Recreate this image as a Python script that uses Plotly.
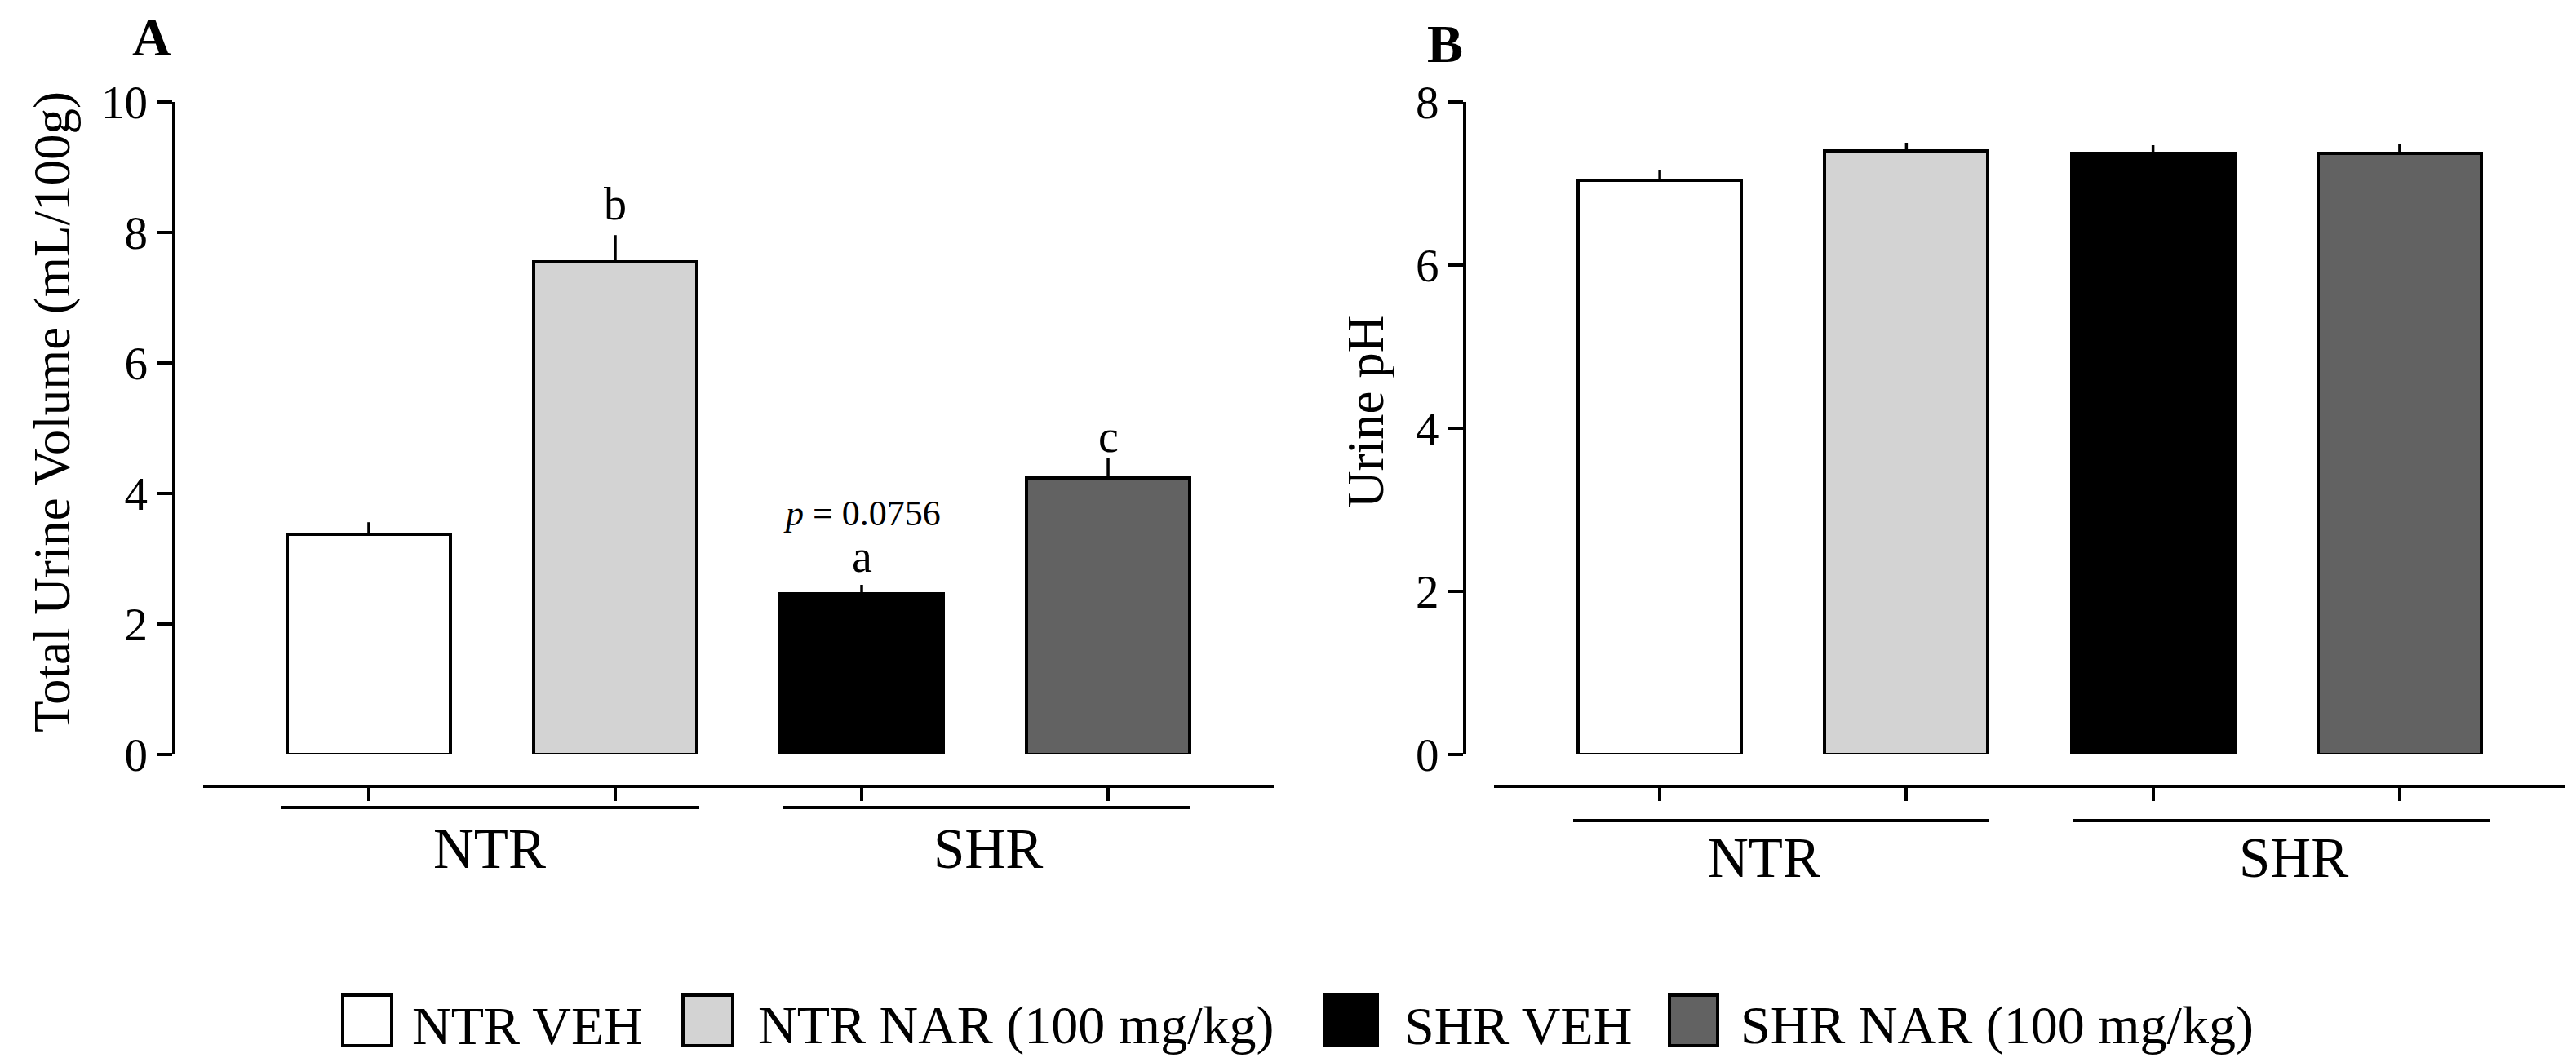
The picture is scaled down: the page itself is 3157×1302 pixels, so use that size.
import plotly.graph_objects as go

W, H = 3157, 1302
FONT = "Liberation Serif"

# data
groups = ["NTR VEH", "NTR NAR (100 mg/kg)", "SHR VEH", "SHR NAR (100 mg/kg)"]
colours = ["#ffffff", "#d3d3d3", "#000000", "#626262"]
volume_mean = [3.37, 7.55, 2.46, 4.24]
volume_sem = [0.19, 0.41, 0.14, 0.31]
ph_mean = [7.04, 7.40, 7.37, 7.37]
ph_sem = [0.12, 0.10, 0.10, 0.11]
strain_labels = ["NTR", "SHR"]
volume_letters = ["", "b", "a", "c"]


def px(x):
    return x / W


def py(y):
    return 1 - y / H


def text(x, y, s, size, **kw):
    return dict(x=px(x), y=py(y), xref="paper", yref="paper", text=s,
                showarrow=False, font=dict(family=FONT, size=size, color="black"),
                xanchor=kw.pop("xanchor", "center"), yanchor=kw.pop("yanchor", "middle"), **kw)


def hline(x0, x1, y, width=4):
    return dict(type="line", xref="paper", yref="paper", x0=px(x0), x1=px(x1),
                y0=py(y), y1=py(y), line=dict(color="black", width=width))


fig = go.Figure()

panels = [
    dict(mean=volume_mean, sem=volume_sem, ymax=10, xdom=(241, 1553), yx=204.5,
         brk_y=982, brk=[(336, 849), (951, 1450)], lab_x=[592, 1203], lab_y=1033,
         title="Total Urine Volume (mL/100g)", title_x=56, letter="A", letter_x=178, letter_y=37),
    dict(mean=ph_mean, sem=ph_sem, ymax=8, xdom=(1823, 3136), yx=1787,
         brk_y=998, brk=[(1920, 2430), (2533, 3044)], lab_x=[2154, 2803], lab_y=1044,
         title="Urine pH", title_x=1666, letter="B", letter_x=1763, letter_y=45),
]

annotations = []
shapes = []
layout_axes = {}

for i, p in enumerate(panels):
    sfx = "" if i == 0 else str(i + 1)
    fig.add_trace(go.Bar(
        x=groups, y=p["mean"], width=0.662,
        marker=dict(color=colours, line=dict(color="black", width=4)),
        error_y=dict(type="data", array=p["sem"], arrayminus=[0] * 4, symmetric=False,
                     width=0, thickness=3.5, color="black"),
        xaxis="x" + sfx, yaxis="y" + sfx, showlegend=False,
    ))
    layout_axes["xaxis" + sfx] = dict(
        domain=[px(p["xdom"][0]), px(p["xdom"][1])], anchor="free", position=py(956),
        type="category", range=[-0.672, 3.672], showticklabels=False, automargin=False,
        ticks="outside", ticklen=16, tickwidth=4, tickcolor="black",
        showline=True, linewidth=4, linecolor="black", showgrid=False, zeroline=False,
    )
    layout_axes["yaxis" + sfx] = dict(
        domain=[py(917), py(117)], anchor="free", position=px(p["yx"]), automargin=False,
        range=[0, p["ymax"]], dtick=2, ticks="outside", ticklen=18, tickwidth=4,
        tickcolor="black", showline=True, linewidth=4, linecolor="black",
        showgrid=False, zeroline=False,
        tickfont=dict(family=FONT, size=57, color="black"),
    )
    for (x0, x1) in p["brk"]:
        shapes.append(hline(x0, x1, p["brk_y"]))
    for lx, lab in zip(p["lab_x"], strain_labels):
        annotations.append(text(lx, p["lab_y"], lab, 69))
    annotations.append(text(p["title_x"], 497, p["title"], 63, textangle=-90))
    annotations.append(text(p["letter_x"], p["letter_y"], "<b>%s</b>" % p["letter"], 66))

# significance letters on panel A, centred over their bars
letter_pos = {"b": 242, "a": 674, "c": 527}
for g, letter in zip(groups, volume_letters):
    if letter:
        annotations.append(dict(x=g, y=py(letter_pos[letter]), xref="x", yref="paper",
                                text=letter, showarrow=False, yanchor="middle",
                                font=dict(family=FONT, size=56, color="black")))
annotations.append(dict(x=groups[2], y=py(621), xref="x", yref="paper",
                        text="<i>p</i> = 0.0756", showarrow=False, yanchor="middle",
                        font=dict(family=FONT, size=44, color="black")))

# legend drawn by hand so the swatches match the size of the original
legend_boxes = [(412, 472), (829, 890), (1616, 1680), (2038, 2097)]
legend_text_x = [495, 919, 1711, 2123]
for (x0, x1), tx, col, name in zip(legend_boxes, legend_text_x, colours, groups):
    shapes.append(dict(type="rect", xref="paper", yref="paper", x0=px(x0), x1=px(x1),
                       y0=py(1274), y1=py(1212), fillcolor=col,
                       line=dict(color="black", width=4)))
    annotations.append(text(tx, 1249, name, 66, xanchor="left"))

fig.update_layout(
    template="none",
    width=W, height=H, autosize=False,
    margin=dict(l=0, r=0, t=0, b=0, pad=0),
    paper_bgcolor="white", plot_bgcolor="white",
    font=dict(family=FONT, color="black"),
    bargap=0, annotations=annotations, shapes=shapes,
    **layout_axes,
)

fig.write_html("out.html")
